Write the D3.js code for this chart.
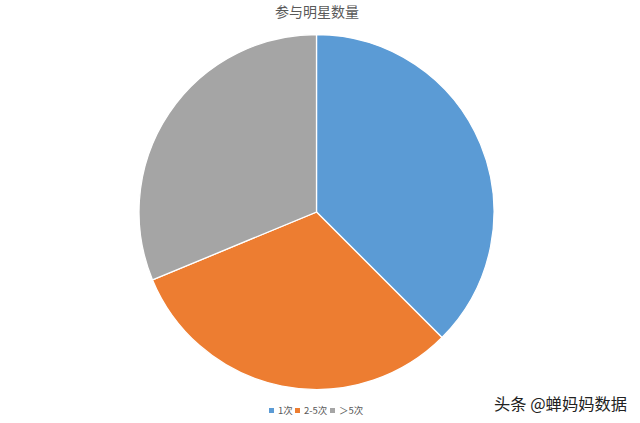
<!DOCTYPE html>
<html>
<head>
<meta charset="utf-8">
<script src="https://cdn.jsdelivr.net/npm/d3@7"></script>
<style>
  body { margin: 0; background: #fff; }
  svg { display: block; }
</style>
</head>
<body>
<svg width="640" height="423"></svg>
<script>
// --- Data ---
const categories = ["1次", "2-5次", "＞5次"];
const counts = [6, 5, 5];
const colors = ["#5B9BD5", "#ED7D31", "#A5A5A5"];
const title = "参与明星数量";

const svg = d3.select("svg"),
      width = +svg.attr("width"),
      height = +svg.attr("height");

const cx = 316.5, cy = 212, radius = 177.5;

// --- Title ---
svg.append("text")
  .attr("x", 317)
  .attr("y", 17)
  .attr("text-anchor", "middle")
  .attr("font-family", "Noto Sans CJK SC")
  .attr("font-size", "14px")
  .attr("fill", "#595959")
  .text(title);

// --- Pie ---
const pie = d3.pie().sort(null).value(d => d)(counts);
const arc = d3.arc().innerRadius(0).outerRadius(radius);

svg.append("g")
  .attr("transform", `translate(${cx},${cy})`)
  .selectAll("path")
  .data(pie)
  .enter().append("path")
    .attr("d", arc)
    .attr("fill", (d, i) => colors[i])
    .attr("stroke", "#fff")
    .attr("stroke-width", 1.3);

// --- Legend ---
const legendX = [269, 295, 330];
const legend = svg.append("g").attr("font-family", "Noto Sans CJK SC").attr("font-size", "9.5px");
categories.forEach((c, i) => {
  legend.append("rect")
    .attr("x", legendX[i])
    .attr("y", 408)
    .attr("width", 5)
    .attr("height", 5)
    .attr("fill", colors[i]);
  legend.append("text")
    .attr("x", legendX[i] + 9)
    .attr("y", 414)
    .attr("fill", "#595959")
    .text(c);
});

// --- Watermark ---
svg.append("text")
  .attr("x", 494)
  .attr("y", 410)
  .attr("font-family", "Noto Sans CJK SC")
  .attr("font-size", "16.3px")
  .attr("fill", "#222")
  .attr("stroke", "#fff")
  .attr("stroke-width", 2)
  .attr("paint-order", "stroke")
  .text("头条 @蝉妈妈数据");
</script>
</body>
</html>
